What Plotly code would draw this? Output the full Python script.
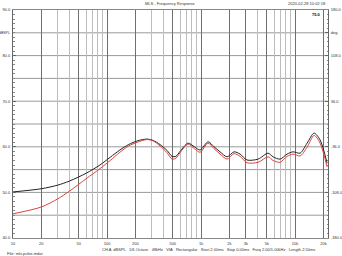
import plotly.graph_objects as go

freq = [10, 20, 30, 40, 60, 84, 108, 137, 170, 210, 267, 309, 366, 435, 491, 540, 598, 727, 850, 976,
        1187, 1374, 1592, 1891, 2245, 2600, 3085, 4038, 5160, 5834, 6922, 8219, 9524, 11300,
        13420, 15930, 18450, 21900]
black_db = [50.1, 50.8, 51.6, 52.5, 54.2, 56.0, 57.7, 59.3, 60.5, 61.3, 61.7, 61.4, 60.5, 59.2, 57.9, 57.9,
            59.0, 60.8, 60.0, 59.3, 61.1, 60.0, 58.9, 57.8, 58.9, 58.4, 57.1, 57.3, 58.6, 57.8,
            57.3, 58.4, 58.9, 58.6, 60.8, 63.0, 61.5, 56.4]
red_db = [45.3, 46.8, 48.6, 50.3, 53.0, 55.2, 57.0, 58.8, 60.2, 61.0, 61.6, 61.3, 60.2, 58.7, 57.3, 57.5,
          58.7, 60.6, 59.6, 58.8, 60.8, 59.6, 58.4, 57.3, 58.5, 57.9, 56.5, 56.6, 57.8, 57.0,
          56.6, 57.9, 58.4, 58.0, 59.9, 62.5, 60.8, 55.6]

x_major = [10, 20, 50, 100, 200, 500, 1000, 2000, 3000, 5000, 10000, 20000]
x_major_text = ["10", "20", "50", "100", "200", "500", "1k", "2k", "3k", "5k", "10k", "20k"]
x_minor = [30, 40, 60, 70, 80, 90, 300, 400, 600, 700, 800, 900, 4000, 6000, 7000, 8000, 9000]
y_left_vals = [40, 50, 60, 70, 80, 90]
y_left_text = ["40.0", "50.0", "60.0", "70.0", "80.0", "90.0"]
y_left_unit = "dBSPL"
y_right_vals = [-180, -108, -36, 36, 108, 144, 180]
y_right_text = ["-180.0", "-108.0", "-36.0", "36.0", "108.0", "deg", "180.0"]

title = "MLS - Frequency Response"
date_text = "2020-02-28 10:02:18"
info_text = ("CH A  dBSPL   1/6 Octave   48kHz   VIA   Rectangular   Start 2.00ms   "
             "Stop 0.00ms   Freq 2.00/1.00kHz   Length 2.50ms")
file_text = "File: mls.pulse.mdat"

fnt = dict(family="Liberation Sans, Arial, sans-serif", size=4, color="#333")

fig = go.Figure()
fig.add_trace(go.Scatter(x=freq, y=black_db, mode="lines",
                         line=dict(color="#222222", width=1, shape="spline", smoothing=0.8),
                         showlegend=False))
fig.add_trace(go.Scatter(x=freq, y=red_db, mode="lines",
                         line=dict(color="#e0413a", width=1, shape="spline", smoothing=0.8),
                         showlegend=False))
fig.add_trace(go.Scatter(x=[None], y=[None], yaxis="y2", showlegend=False))

fig.update_layout(
    width=342, height=256,
    margin=dict(l=13, r=14, t=10, b=18),
    paper_bgcolor="white", plot_bgcolor="white",
    font=fnt,
    xaxis=dict(type="log", range=[1, 4.35], tickmode="array", tickvals=x_major, ticktext=x_major_text,
               showgrid=True, gridcolor="#6f6f6f", gridwidth=1, zeroline=False, automargin=False,
               showline=True, linecolor="#888", linewidth=1, mirror=True,
               ticks="", tickfont=fnt, ticklabelstandoff=1,
               minor=dict(tickmode="array", tickvals=x_minor, showgrid=True, gridcolor="#bdbdbd", gridwidth=1)),
    yaxis=dict(range=[40, 90], tickmode="array", tickvals=y_left_vals, ticktext=y_left_text,
               showgrid=False, zeroline=False, showline=True, linecolor="#666", linewidth=1, automargin=False,
               ticks="inside", ticklen=3, tickcolor="#666", tickfont=fnt, ticklabelstandoff=1,
               minor=dict(dtick=1, ticks="inside", ticklen=1.5, tickcolor="#888", showgrid=False)),
    yaxis2=dict(range=[-180, 180], overlaying="y", side="right", tickmode="array",
                tickvals=y_right_vals, ticktext=y_right_text, automargin=False,
                showgrid=False, zeroline=False, showline=True, linecolor="#666", linewidth=1,
                ticks="inside", ticklen=3, tickcolor="#666", tickfont=fnt, ticklabelstandoff=1,
                minor=dict(dtick=7.2, ticks="inside", ticklen=1.5, tickcolor="#888", showgrid=False)),
    shapes=[dict(type="line", xref="paper", x0=0, x1=1, yref="y", y0=v, y1=v,
                 line=dict(color="#9a9a9a", width=1), layer="below")
            for v in [45, 50, 55, 60, 65, 70, 75, 80, 85]],
    annotations=[
        dict(text=title, x=0.5, y=1, xref="paper", yref="paper", xanchor="center", yanchor="bottom",
             yshift=2, showarrow=False, font=fnt),
        dict(text=date_text, x=1, y=1, xref="paper", yref="paper", xanchor="right", yanchor="bottom",
             yshift=2, showarrow=False, font=fnt),
        dict(text="<b>75.0</b>", x=0.985, y=1, xref="paper", yref="paper", xanchor="right", yanchor="top",
             showarrow=False, font=dict(family="Liberation Sans", size=4, color="#000")),
        dict(text=y_left_unit, x=0, y=85, xref="paper", yref="y", xanchor="right", yanchor="middle",
             xshift=-1, showarrow=False, font=dict(family="Liberation Sans", size=3.5, color="#333")),
        dict(text=info_text, x=(100 - 13) / (342 - 27), y=0, xref="paper", yref="paper",
             xanchor="left", yanchor="top", yshift=-7, showarrow=False, font=fnt),
        dict(text=file_text, x=0, y=0, xref="paper", yref="paper", xanchor="left", yanchor="top",
             yshift=-11, xshift=-8, showarrow=False, font=fnt),
    ],
)

fig.write_html("out.html")
